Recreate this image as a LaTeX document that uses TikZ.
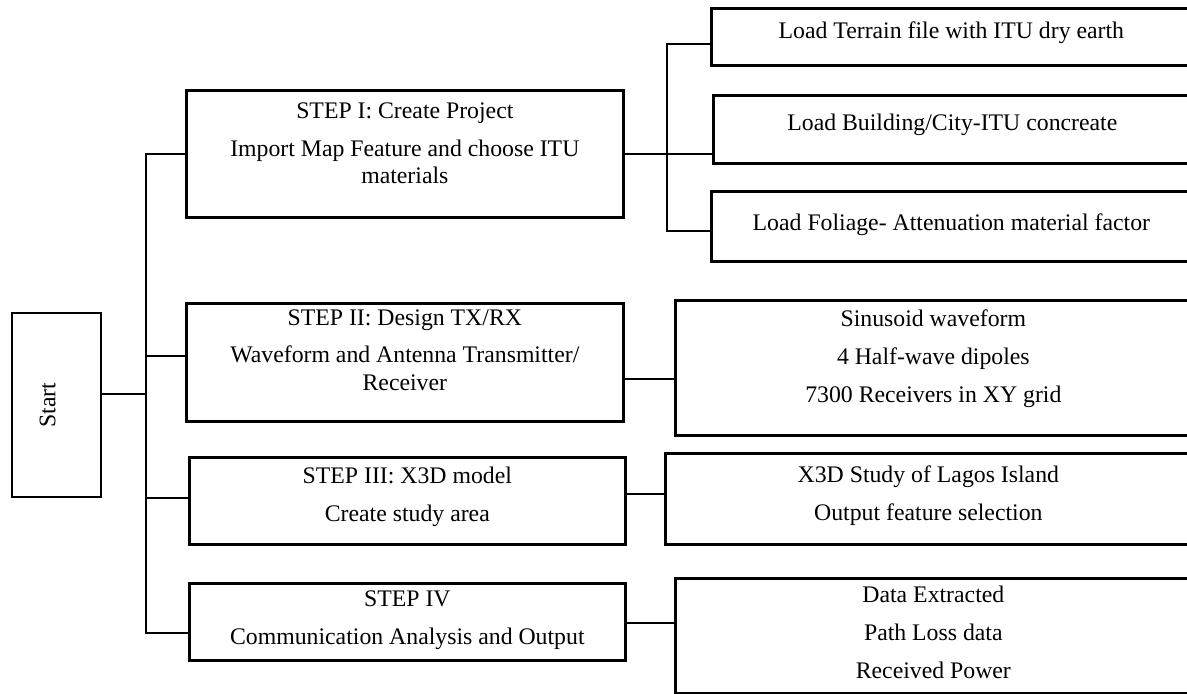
\documentclass[tikz,border=0pt]{standalone}
\usepackage{fontspec}
\setmainfont{Liberation Serif}
\usepackage{tikz}

\newcommand\lift[1]{\rule[-#1]{0pt}{#1}}

\begin{document}
\begin{tikzpicture}[x=0.025cm,y=-0.025cm,
    stepbox/.style={draw,line width=1.9pt,rectangle,inner sep=0pt,align=center,anchor=north west,
        font=\fontsize{16.9}{27}\selectfont},
    link/.style={draw,line width=1pt}]

\def\pxlen{0.025cm}
\def\tight{-7.5pt}

\useasboundingbox (0,0) rectangle (1187,693);
\clip (0,0) rectangle (1187,693);

% left column
\node[stepbox,anchor=center,rotate=90,minimum width=184*\pxlen,minimum height=89*\pxlen] (start) at (56.5,405) {Start\lift{12.8pt}};

% steps
\node[stepbox,minimum width=437*\pxlen,minimum height=127*\pxlen] (s1) at (185,89) {STEP I: Create Project\\Import Map Feature and choose ITU\\[\tight]materials\lift{15.6pt}};
\node[stepbox,minimum width=437*\pxlen,minimum height=118*\pxlen] (s2) at (185,302) {STEP II: Design TX/RX\\Waveform and Antenna Transmitter/\\[\tight]Receiver\lift{17.8pt}};
\node[stepbox,minimum width=436*\pxlen,minimum height=87*\pxlen] (s3) at (188,456) {STEP III: X3D model\\Create study area\lift{10pt}};
\node[stepbox,minimum width=436*\pxlen,minimum height=77*\pxlen] (s4) at (188,582) {STEP IV\\Communication Analysis and Output\lift{6.4pt}};

% right column
\node[stepbox,minimum width=480*\pxlen,minimum height=57*\pxlen] (t1) at (710,7) {Load Terrain file with ITU dry earth\lift{9.2pt}};
\node[stepbox,minimum width=478*\pxlen,minimum height=68*\pxlen] (t2) at (712,94) {Load Building/City-ITU concreate\lift{10.7pt}};
\node[stepbox,minimum width=480*\pxlen,minimum height=70*\pxlen] (t3) at (710,190) {Load Foliage- Attenuation material factor\lift{6.4pt}};
\node[stepbox,minimum width=516*\pxlen,minimum height=135*\pxlen] (r2) at (674,299) {Sinusoid waveform\\4 Half-wave dipoles\\7300 Receivers in XY grid\lift{16.4pt}};
\node[stepbox,minimum width=526*\pxlen,minimum height=91*\pxlen] (r3) at (664,452) {X3D Study of Lagos Island\\Output feature selection\lift{7.8pt}};
\node[stepbox,minimum width=516*\pxlen,minimum height=115*\pxlen] (r4) at (674,577) {Data Extracted\\Path Loss data\\Received Power\lift{5.7pt}};

% tree
\coordinate (j0) at (146,394);
\coordinate (j1) at (s1.east -| 667,0);

\draw[link,line width=1.2pt] (start.south |- j0) -- (j0);
\draw[link] (s1.west) -| (j0);
\draw[link] (s4.west |- 0,633) -| (j0);
\draw[link] (s2.west |- 0,356) -- (j0 |- 0,356);
\draw[link] (s3.west |- 0,498) -- (j0 |- 0,498);

\draw[link] (s1.east) -- (j1);
\draw[link] (t1.west |- 0,44) -| (j1);
\draw[link] (t3.west |- 0,231) -| (j1);
\draw[link] (j1) -- (t2.west |- j1);
\draw[link] (s2.east |- 0,379) -- (r2.west |- 0,379);
\draw[link] (s3.east |- 0,494) -- (r3.west |- 0,494);
\draw[link] (s4.east |- 0,623) -- (r4.west |- 0,623);

\end{tikzpicture}
\end{document}
